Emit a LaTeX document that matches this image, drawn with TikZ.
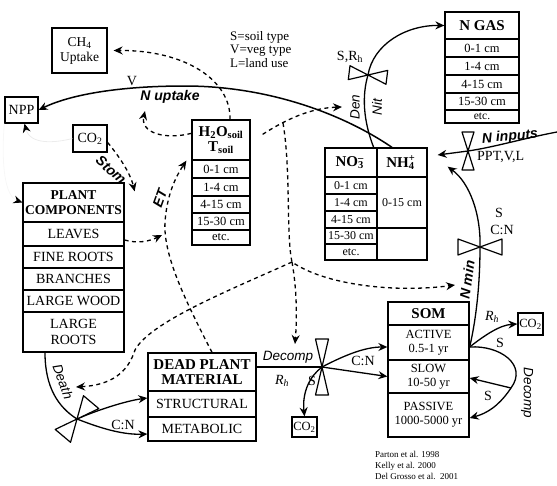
\documentclass[tikz,border=0pt]{standalone}
\usepackage{fontspec}
\setmainfont{Liberation Serif}
\setsansfont{Liberation Sans}
\usetikzlibrary{arrows.meta,calc}
\tikzset{
  wh/.style 2 args={minimum width=#1pt, minimum height=#2pt},
  box/.style={draw, line width=1.3pt, inner sep=0pt, align=center, font=\fontsize{14}{15.5}\selectfont},
  rowc/.style={box, font=\fontsize{12.5}{14}\selectfont},
  hdr/.style={box, font=\fontsize{15}{15.5}\selectfont\bfseries},
  lab/.style={inner sep=0pt, font=\fontsize{14}{15}\selectfont},
  slab/.style={inner sep=0pt, font=\fontsize{13.5}{14}\selectfont\sffamily\itshape},
  sblab/.style={inner sep=0pt, font=\fontsize{14}{14}\selectfont\sffamily\bfseries\itshape},
  reflab/.style={inner sep=0pt, align=left, font=\fontsize{9}{11}\selectfont},
  flow/.style={line width=1.3pt, -{Stealth[length=9pt,width=8pt,inset=3pt]}},
  dflow/.style={flow, dash pattern=on 4pt off 3.5pt},
  faint/.style={draw=gray!15, line width=0.8pt, -{Stealth[length=9pt,width=8pt,inset=3pt,color=black]}},
  bowline/.style={draw, fill=white, line width=1.2pt, line join=round},
  pics/bowtie/.style 2 args={code={\draw[bowline] (-#1,#2)--(#1,-#2)--(#1,#2)--(-#1,-#2)--cycle;}}
}
\begin{document}
\begin{tikzpicture}[x=1pt,y=-1pt]
\useasboundingbox (0,0) rectangle (557,485);

% ---------- boxes ----------
\node[box, wh={33}{26}] (npp) at (21.5,110) {NPP};
\node[box, wh={55}{45}, font=\fontsize{13.5}{15}\selectfont] (ch4) at (79.5,50.5) {CH\textsubscript{4}\\Uptake};
\node[box, wh={34}{27}] (co2l) at (90,138.5) {CO\textsubscript{2}};

% H2O / T soil
\node[hdr, wh={58}{40}] (h2ohdr) at (221,140) {H\textsubscript{2}O\textsubscript{soil}\\T\textsubscript{soil}};
\node[rowc, wh={58}{18}] (h2oa) at (221,169) {0-1 cm};
\node[rowc, wh={58}{18}] (h2ob) at (221,187) {1-4 cm};
\node[rowc, wh={58}{17}] (h2oc) at (221,204.5) {4-15 cm};
\node[rowc, wh={58}{17}] (h2od) at (221,221.5) {15-30 cm};
\node[rowc, wh={58}{15}] (h2oe) at (221,237.5) {etc.};

% plant components
\node[hdr, wh={101}{39}, font=\fontsize{13.5}{15}\selectfont\bfseries] (planthdr) at (73.5,202.5) {PLANT\\COMPONENTS};
\node[box, wh={101}{24}] (plantlv) at (73.5,234) {LEAVES};
\node[box, wh={101}{22}] (plantfr) at (73.5,257) {FINE ROOTS};
\node[box, wh={101}{22}] (plantbr) at (73.5,279) {BRANCHES};
\node[box, wh={101}{22}] (plantlw) at (73.5,301) {LARGE WOOD};
\node[box, wh={101}{40}] (plantlr) at (73.5,332) {LARGE\\ROOTS};

% dead plant material
\node[hdr, wh={108}{38}] (deadhdr) at (202,372) {DEAD PLANT\\MATERIAL};
\node[box, wh={108}{26}] (deadstr) at (202,404) {STRUCTURAL};
\node[box, wh={108}{24}] (deadmet) at (202,429) {METABOLIC};

% SOM
\node[hdr, wh={81}{23}] (somhdr) at (428.5,313.5) {SOM};
\node[rowc, wh={81}{35}] (somact) at (428.5,342.5) {ACTIVE\\0.5-1 yr};
\node[rowc, wh={81}{33}] (somslow) at (428.5,376.5) {SLOW\\10-50 yr};
\node[rowc, wh={81}{44}] (sompas) at (428.5,415) {PASSIVE\\1000-5000 yr};

\node[box, wh={25}{22}, font=\fontsize{12.5}{14}\selectfont] (co2r) at (530.5,324) {CO\textsubscript{2}};
\node[box, wh={25}{20}, font=\fontsize{12.5}{14}\selectfont] (co2b) at (304.5,427) {CO\textsubscript{2}};

% N GAS
\node[hdr, wh={74}{27}] (ngashdr) at (482,25.5) {N GAS};
\node[rowc, wh={74}{18}] (ngasa) at (482,48) {0-1 cm};
\node[rowc, wh={74}{18}] (ngasb) at (482,66) {1-4 cm};
\node[rowc, wh={74}{18}] (ngasc) at (482,84) {4-15 cm};
\node[rowc, wh={74}{17}] (ngasd) at (482,101.5) {15-30 cm};
\node[rowc, wh={74}{13}, font=\fontsize{11.5}{12}\selectfont] (ngase) at (482,116.5) {etc.};

% NO3 / NH4
\node[hdr, wh={52}{29}] (no3hdr) at (351,162.5) {NO\rlap{\textsubscript{3}}\textsuperscript{–}\,};
\node[hdr, wh={50}{29}] (nh4hdr) at (402,162.5) {NH\rlap{\textsubscript{4}}\textsuperscript{+}\,};
\node[rowc, wh={52}{17}, font=\fontsize{12}{13}\selectfont] (no3a) at (351,185.5) {0-1 cm};
\node[rowc, wh={52}{17}, font=\fontsize{12}{13}\selectfont] (no3b) at (351,202.5) {1-4 cm};
\node[rowc, wh={52}{17}, font=\fontsize{12}{13}\selectfont] (no3c) at (351,219.5) {4-15 cm};
\node[rowc, wh={52}{16}, font=\fontsize{12}{13}\selectfont] (no3d) at (351,236) {15-30 cm};
\node[rowc, wh={52}{16}, font=\fontsize{12}{13}\selectfont] (no3e) at (351,252) {etc.};
\node[rowc, wh={50}{51}, font=\fontsize{12}{13}\selectfont] (nh4a) at (402,202.5) {0-15 cm};
\node[rowc, wh={50}{32}] (nh4b) at (402,244) {};

% ---------- coordinates ----------
\coordinate (btden) at (368,75);
\coordinate (btmin) at (480,247);
\coordinate (btdec) at (322,367);
\coordinate (btin) at (468,151);
\coordinate (btdeath) at (77,419);
\coordinate (ninsrc) at (557,132);
\coordinate (dcj) at (511,388);
\coordinate (dj) at (292,262);
\coordinate (d4s) at (283,123);
\coordinate (nuparr) at (145,111);
\coordinate (d3e) at (342,107);
\coordinate (nminarr) at (455,285);
\coordinate (decarr) at (295,344);
\coordinate (deatharr) at (76,387);
\coordinate (leafarr) at (162,235);

% ---------- faint lines ----------
\draw[faint] (co2l.west) .. controls (55,143) and (30,145) .. ([xshift=3pt]npp.south);
\draw[faint, draw=gray!6] (npp.south west) .. controls (2,150) and (2,195) .. (planthdr.west);

% ---------- solid flows ----------
\draw[flow, line width=1.5pt] ([xshift=-10pt]nh4hdr.north) .. controls (340,112) and (265,86) .. (185,86) .. controls (110,86) and (65,97) .. (npp.east);
\draw[flow] ([xshift=-4pt]no3hdr.north east) .. controls (363,120) and (362,95) .. (btden) .. controls (373,45) and (405,25) .. (ngashdr.west);
\draw[flow] (ninsrc) .. controls (525,138) and (495,147) .. (btin) -- ([xshift=10pt,yshift=7.5pt]nh4hdr.east);
\draw[flow] ([yshift=-4.5pt]somact.east) .. controls (476,320) and (480,285) .. (btmin) .. controls (481,215) and (470,183) .. ([xshift=20pt,yshift=11pt]nh4hdr.south east);
\draw[flow] ([yshift=-4.5pt]somact.east) .. controls (485,335) and (500,325) .. (co2r.west);
\draw[line width=1.3pt] ([yshift=-4.5pt]somact.east) .. controls (500,345) and (528,365) .. (dcj);
\draw[flow] (dcj) -- ([yshift=-1.5pt]somslow.east);
\draw[flow] (dcj) .. controls (503,400) and (492,412) .. ([yshift=-3pt]sompas.east);

\draw[line width=1.3pt] ([yshift=5pt]deadhdr.east) -- (btdec);
\draw[flow] (btdec) .. controls (345,355) and (365,347) .. ([yshift=-4.5pt]somact.west);
\draw[flow] (btdec) -- (somslow.west);
\draw[flow] (btdec) .. controls (310,376) and (302,392) .. (co2b.north);

\draw[line width=1.3pt] ([xshift=-28.5pt]plantlr.south) .. controls (45,387) and (58,407) .. (btdeath);
\draw[flow] (btdeath) .. controls (95,411) and (125,401) .. ([yshift=6pt]deadstr.west);
\draw[flow] (btdeath) .. controls (95,426) and (120,435) .. ([yshift=-5pt]deadmet.west);

% ---------- dashed flows ----------
\draw[dflow] ([xshift=9pt]h2ohdr.north) .. controls (231,80) and (185,50) .. ([xshift=6pt]ch4.east);
\draw[dflow] ([yshift=-14pt]h2ohdr.north west) .. controls (165,140) and (140,133) .. (nuparr);
\draw[dflow] ([xshift=12pt,yshift=-15pt]h2ohdr.north east) .. controls (285,120) and (310,108) .. (d3e);
\draw[dflow] (d4s) .. controls (291,170) and (286,235) .. (dj) .. controls (325,285) and (395,293) .. (nminarr);
\draw[dflow] (dj) .. controls (297,290) and (297,318) .. (decarr);
\draw[dflow] (dj) .. controls (230,290) and (150,322) .. (135,350) .. controls (128,372) and (112,385) .. (deatharr);
\draw[dflow] ([xshift=10pt]deadhdr.north) .. controls (185,300) and (163,255) .. (165,222) .. controls (167,195) and (175,178) .. ([xshift=-5pt]h2ohdr.south west);
\draw[dflow] ([yshift=-6pt]plantlv.east) .. controls (138,244) and (150,241) .. (leafarr);
\draw[dflow] ([yshift=-4pt]co2l.east) .. controls (118,155) and (130,172) .. ([xshift=10pt,yshift=-9pt]planthdr.north east);

% ---------- bowties ----------
\pic[rotate=-7] at (btden) {bowtie={19}{7}};
\pic at (btmin) {bowtie={22}{8}};
\pic[rotate=90] at (btdec) {bowtie={28}{6.5}};
\pic[rotate=90] at (btin) {bowtie={19}{6}};
\pic[rotate=50] at (btdeath) {bowtie={22}{10}};

% ---------- labels ----------
\node[lab] (vlab) at (132,81) {V};
\node[sblab] (nuptlab) at (170,97) {N uptake};
\node[sblab, rotate=-42] (stomlab) at (111,170) {Stom};
\node[sblab, rotate=70] (etlab) at (160,198) {ET};
\node[slab, rotate=90] (denlab) at (355,107) {Den};
\node[slab, rotate=90] (nitlab) at (377,107) {Nit};
\node[lab] (srh) at (350,57) {S,R\textsubscript{h}};
\node[sblab, rotate=5] (ninlab) at (510,137) {N inputs};
\node[lab, anchor=west] (pptlab) at (477,157) {PPT,V,L};
\node[lab] (s1) at (499,213) {S};
\node[lab] (cn1) at (502,230) {C:N};
\node[sblab, rotate=82] (nminlab) at (467,280) {N min};
\node[lab] (rh1) at (492,317) {\textit{R}\textsubscript{\textit{h}}};
\node[lab] (s2) at (500,343) {S};
\node[slab, rotate=-90] (decomp2) at (527,393) {Decomp};
\node[lab] (s3) at (488,396) {S};
\node[slab] (decomp1) at (288,357) {Decomp};
\node[lab] (rh2) at (282,381) {\textit{R}\textsubscript{\textit{h}}};
\node[lab] (s4) at (312,381) {S};
\node[lab] (cn2) at (363,361) {C:N};
\node[slab, rotate=-70] (deathlab) at (63,382) {Death};
\node[lab] (cn3) at (123,425) {C:N};
\node[lab, anchor=north west, align=left, font=\fontsize{13}{13.5}\selectfont] (legend) at (230,31) {S=soil type\\V=veg type\\L=land use};
\node[reflab, anchor=north west] (refs) at (375,451) {Parton et al. 1998\\Kelly et al. 2000\\Del Grosso et al.\ \ 2001};
\end{tikzpicture}
\end{document}
